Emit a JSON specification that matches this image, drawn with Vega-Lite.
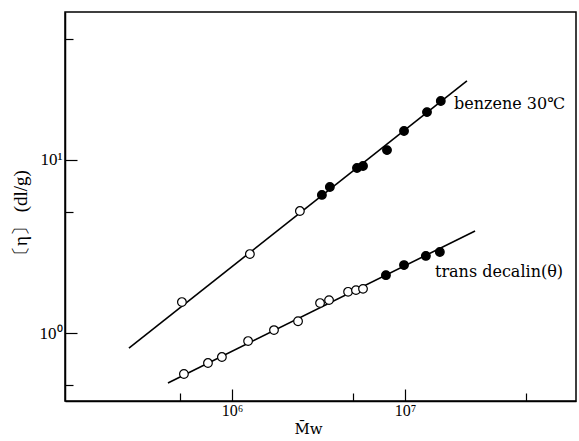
{
  "$schema": "https://vega.github.io/schema/vega-lite/v6.json",
  "width": 511,
  "height": 389,
  "autosize": "none",
  "padding": {"left": 65, "top": 12, "right": 3, "bottom": 40},
  "background": "white",
  "config": {
    "view": {"stroke": "black", "strokeWidth": 1.5},
    "font": "Liberation Serif"
  },
  "datasets": {
    "pts": [
      {"series": "benzene", "M": 514000, "eta": 1.51, "type": "open"},
      {"series": "benzene", "M": 1270000, "eta": 2.86, "type": "open"},
      {"series": "benzene", "M": 2470000, "eta": 5.07, "type": "open"},
      {"series": "benzene", "M": 3310000, "eta": 6.28, "type": "filled"},
      {"series": "benzene", "M": 3680000, "eta": 6.98, "type": "filled"},
      {"series": "benzene", "M": 5280000, "eta": 8.99, "type": "filled"},
      {"series": "benzene", "M": 5720000, "eta": 9.23, "type": "filled"},
      {"series": "benzene", "M": 7870000, "eta": 11.4, "type": "filled"},
      {"series": "benzene", "M": 9870000, "eta": 14.7, "type": "filled"},
      {"series": "benzene", "M": 13400000, "eta": 18.9, "type": "filled"},
      {"series": "benzene", "M": 16100000, "eta": 21.9, "type": "filled"},
      {"series": "trans", "M": 528000, "eta": 0.58, "type": "open"},
      {"series": "trans", "M": 727000, "eta": 0.671, "type": "open"},
      {"series": "trans", "M": 875000, "eta": 0.727, "type": "open"},
      {"series": "trans", "M": 1240000, "eta": 0.899, "type": "open"},
      {"series": "trans", "M": 1750000, "eta": 1.04, "type": "open"},
      {"series": "trans", "M": 2410000, "eta": 1.17, "type": "open"},
      {"series": "trans", "M": 3230000, "eta": 1.49, "type": "open"},
      {"series": "trans", "M": 3640000, "eta": 1.55, "type": "open"},
      {"series": "trans", "M": 4690000, "eta": 1.73, "type": "open"},
      {"series": "trans", "M": 5210000, "eta": 1.77, "type": "open"},
      {"series": "trans", "M": 5720000, "eta": 1.8, "type": "open"},
      {"series": "trans", "M": 7760000, "eta": 2.16, "type": "filled"},
      {"series": "trans", "M": 9870000, "eta": 2.47, "type": "filled"},
      {"series": "trans", "M": 13200000, "eta": 2.79, "type": "filled"},
      {"series": "trans", "M": 15900000, "eta": 2.94, "type": "filled"}
    ],
    "lines": [
      {"series": "benzene", "M": 254000, "eta": 0.819},
      {"series": "benzene", "M": 22800000, "eta": 28.6},
      {"series": "trans", "M": 427000, "eta": 0.514},
      {"series": "trans", "M": 25400000, "eta": 3.89}
    ],
    "labels": [
      {"M": 19200000, "eta": 21.1, "label": "benzene 30℃"},
      {"M": 14900000, "eta": 2.25, "label": "trans decalin(θ)"}
    ]
  },
  "layer": [
    {
      "data": {"name": "lines"},
      "mark": {"type": "line", "color": "black", "strokeWidth": 1.6},
      "encoding": {
        "x": {
          "field": "M", "type": "quantitative",
          "scale": {"type": "log", "domain": [108500, 97300000], "nice": false},
          "axis": {
            "title": "M̄w",
            "titleFont": "DejaVu Serif", "titleFontSize": 15, "titleFontWeight": "normal", "titleColor": "black",
            "titleX": 243, "titleY": 27, "titleBaseline": "middle",
            "values": [500000, 1000000, 5000000, 10000000, 50000000],
            "labelExpr": "datum.value == 1000000 ? '10⁶' : datum.value == 10000000 ? '10⁷' : ''",
            "labelFont": "Liberation Serif", "labelFontSize": 16, "labelColor": "black",
            "tickSize": {"condition": {"test": "datum.value == 1000000 || datum.value == 10000000", "value": -12}, "value": -8},
            "labelPadding": 13,
            "tickColor": "black", "tickWidth": 1.2,
            "domainColor": "black", "domainWidth": 1.5,
            "grid": false
          }
        },
        "y": {
          "field": "eta", "type": "quantitative",
          "scale": {"type": "log", "domain": [0.405, 71.6], "nice": false},
          "axis": {
            "title": "〔η〕 (dl/g)",
            "titleFont": "Liberation Serif", "titleFontSize": 19, "titleFontWeight": "normal", "titleColor": "black",
            "titleX": -45, "titleY": 205, "titleAngle": -90, "titleAlign": "center", "titleBaseline": "middle",
            "values": [0.5, 1, 5, 10, 50],
            "labelExpr": "datum.value == 1 ? '10⁰' : datum.value == 10 ? '10¹' : ''",
            "labelFont": "Liberation Serif", "labelFontSize": 17, "labelColor": "black",
            "tickSize": {"condition": {"test": "datum.value == 1 || datum.value == 10", "value": -12}, "value": -8},
            "labelPadding": 15,
            "tickColor": "black", "tickWidth": 1.2,
            "domainColor": "black", "domainWidth": 1.5,
            "grid": false
          }
        },
        "detail": {"field": "series"}
      }
    },
    {
      "data": {"name": "pts"},
      "mark": {"type": "point", "shape": "circle", "size": 75, "stroke": "black", "strokeWidth": 1.2, "opacity": 1, "filled": false},
      "encoding": {
        "x": {"field": "M", "type": "quantitative"},
        "y": {"field": "eta", "type": "quantitative"},
        "fill": {
          "field": "type", "type": "nominal",
          "scale": {"domain": ["open", "filled"], "range": ["white", "black"]},
          "legend": null
        }
      }
    },
    {
      "data": {"name": "labels"},
      "mark": {"type": "text", "font": "DejaVu Serif", "fontSize": 16, "align": "left", "baseline": "middle", "color": "black"},
      "encoding": {
        "x": {"field": "M", "type": "quantitative"},
        "y": {"field": "eta", "type": "quantitative"},
        "text": {"field": "label"}
      }
    }
  ]
}
